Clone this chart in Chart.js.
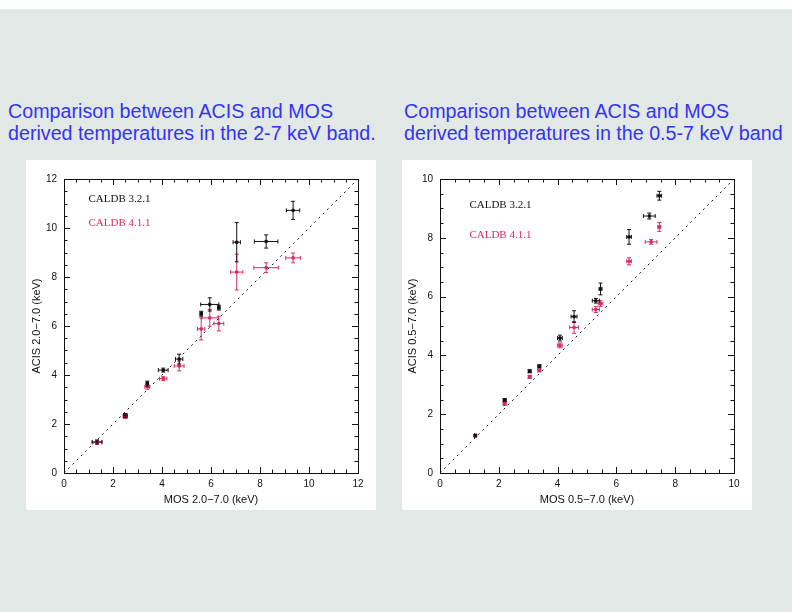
<!DOCTYPE html>
<html>
<head>
<meta charset="utf-8">
<script src="https://cdn.jsdelivr.net/npm/chart.js@4.4.1/dist/chart.umd.min.js"></script>
<style>
  html, body { margin: 0; padding: 0; }
  body { width: 792px; height: 612px; background: #e1e8e6; position: relative; overflow: hidden; font-family: "Liberation Sans", Arial, sans-serif; }
  .strip { position: absolute; left: 0; top: 0; width: 792px; height: 9px; background: #fff; }
  .title { position: absolute; top: 100px; color: #3434ee; font-size: 19.7px; line-height: 22px; white-space: nowrap; }
  .panel { position: absolute; top: 160px; width: 350px; height: 350px; background: #fff; }
</style>
</head>
<body>
<div class="strip"></div>
<div class="title" style="left:8px">Comparison between ACIS and MOS<br>derived temperatures in the 2-7 keV band.</div>
<div class="title" style="left:404px">Comparison between ACIS and MOS<br>derived temperatures in the 0.5-7 keV band</div>
<div class="panel" style="left:26px"><canvas id="left" width="350" height="350"></canvas></div>
<div class="panel" style="left:402px"><canvas id="right" width="350" height="350"></canvas></div>
<script>
// 2-7 keV band
const leftMos = [1.35, 2.5, 3.4, 4.05, 4.7, 5.6, 5.95, 6.32, 7.05, 8.25, 9.35];
const leftOld = [1.27, 2.35, 3.65, 4.2, 4.65, 6.5, 6.88, 6.75, 9.42, 9.45, 10.72];
const leftOldErrX = [0.2, 0.08, 0.05, 0.2, 0.15, 0.05, 0.37, 0.05, 0.15, 0.48, 0.27];
const leftOldErrY = [0.08, 0.08, 0.1, 0.08, 0.2, 0.1, 0.27, 0.1, 0.8, 0.27, 0.37];
const leftNew = [1.25, 2.3, 3.52, 3.85, 4.37, 5.88, 6.33, 6.1, 8.2, 8.38, 8.78];
const leftNewErrX = [0.2, 0.08, 0.1, 0.15, 0.2, 0.15, 0.35, 0.2, 0.25, 0.5, 0.3];
const leftNewErrY = [0.08, 0.08, 0.1, 0.08, 0.2, 0.45, 0.34, 0.3, 0.73, 0.2, 0.2];

// 0.5-7 keV band
const rightMos = [1.2, 2.2, 3.05, 3.38, 4.08, 4.56, 5.3, 5.46, 6.43, 7.12, 7.46];
const rightOld = [1.28, 2.48, 3.46, 3.63, 4.59, 5.32, 5.86, 6.26, 8.03, 8.74, 9.43];
const rightOldErrX = [0.03, 0.05, 0.05, 0.05, 0.08, 0.1, 0.12, 0.05, 0.08, 0.2, 0.08];
const rightOldErrY = [0.03, 0.05, 0.05, 0.05, 0.1, 0.2, 0.08, 0.2, 0.25, 0.1, 0.15];
const rightMosNew = [1.2, 2.2, 3.05, 3.38, 4.08, 4.56, 5.3, 5.46, 6.43, 7.18, 7.46];
const rightNew = [1.26, 2.35, 3.27, 3.49, 4.34, 4.95, 5.56, 5.76, 7.2, 7.86, 8.37];
const rightNewErrX = [0.03, 0.05, 0.05, 0.05, 0.08, 0.15, 0.12, 0.08, 0.08, 0.2, 0.05];
const rightNewErrY = [0.03, 0.05, 0.05, 0.05, 0.08, 0.2, 0.1, 0.1, 0.12, 0.08, 0.15];

const seriesNames = ["CALDB 3.2.1", "CALDB 4.1.1"];
const BLACK = "#111111";
const RED = "#dc2a5e";

function points(xs, ys) {
  return xs.map((x, i) => ({ x: x, y: ys[i] }));
}

// draws error bars, frame with inward ticks, and in-plot labels
const pgplotLook = {
  id: "pgplotLook",
  afterDatasetsDraw(chart) {
    const ctx = chart.ctx;
    const xs = chart.scales.x, ys = chart.scales.y;
    ctx.save();
    ctx.lineWidth = 1;
    chart.data.datasets.forEach(ds => {
      if (!ds.errX) return;
      ctx.strokeStyle = ds.borderColor;
      ds.data.forEach((p, i) => {
        const px = xs.getPixelForValue(p.x), py = ys.getPixelForValue(p.y);
        const x0 = xs.getPixelForValue(p.x - ds.errX[i]), x1 = xs.getPixelForValue(p.x + ds.errX[i]);
        const y0 = ys.getPixelForValue(p.y - ds.errY[i]), y1 = ys.getPixelForValue(p.y + ds.errY[i]);
        ctx.beginPath();
        ctx.moveTo(x0, py); ctx.lineTo(x1, py);
        ctx.moveTo(px, y0); ctx.lineTo(px, y1);
        ctx.moveTo(x0, py - 2); ctx.lineTo(x0, py + 2);
        ctx.moveTo(x1, py - 2); ctx.lineTo(x1, py + 2);
        ctx.moveTo(px - 2, y0); ctx.lineTo(px + 2, y0);
        ctx.moveTo(px - 2, y1); ctx.lineTo(px + 2, y1);
        ctx.stroke();
      });
    });
    ctx.restore();
  },
  afterDraw(chart) {
    const ctx = chart.ctx;
    const a = chart.chartArea;
    const xs = chart.scales.x, ys = chart.scales.y;
    ctx.save();
    ctx.strokeStyle = BLACK;
    ctx.lineWidth = 1;
    ctx.strokeRect(Math.round(a.left) + 0.5, Math.round(a.top) + 0.5, Math.round(a.right - a.left), Math.round(a.bottom - a.top));
    ctx.beginPath();
    for (let v = xs.min; v <= xs.max + 1e-9; v += 0.5) {
      const px = Math.round(xs.getPixelForValue(v)) + 0.5;
      const len = (Math.abs(v % 2) < 1e-9) ? 6 : 3.5;
      ctx.moveTo(px, a.bottom); ctx.lineTo(px, a.bottom - len);
      ctx.moveTo(px, a.top); ctx.lineTo(px, a.top + len);
    }
    for (let v = ys.min; v <= ys.max + 1e-9; v += 0.5) {
      const py = Math.round(ys.getPixelForValue(v)) + 0.5;
      const len = (Math.abs(v % 2) < 1e-9) ? 6 : 3.5;
      ctx.moveTo(a.left, py); ctx.lineTo(a.left + len, py);
      ctx.moveTo(a.right, py); ctx.lineTo(a.right - len, py);
    }
    ctx.stroke();
    const lab = chart.options.plugins.pgplotLook;
    ctx.font = '11px "Liberation Serif", serif';
    ctx.textBaseline = "middle";
    ctx.textAlign = "left";
    ctx.fillStyle = BLACK;
    ctx.fillText(seriesNames[0], xs.getPixelForValue(lab.x), ys.getPixelForValue(lab.y1));
    ctx.fillStyle = RED;
    ctx.fillText(seriesNames[1], xs.getPixelForValue(lab.x), ys.getPixelForValue(lab.y2));
    ctx.restore();
  }
};

function makeChart(id, max, mosX, mosXNew, oldY, oldEx, oldEy, newY, newEx, newEy, xTitle, yTitle, lab) {
  return new Chart(document.getElementById(id), {
    type: "scatter",
    data: {
      datasets: [
        {
          type: "line",
          data: points([0, max], [0, max]),
          borderColor: BLACK,
          borderWidth: 1,
          borderDash: [2, 4],
          pointRadius: 0,
          fill: false
        },
        {
          label: seriesNames[1],
          data: points(mosXNew, newY),
          errX: newEx,
          errY: newEy,
          borderColor: RED,
          backgroundColor: RED,
          pointStyle: "rect",
          pointRadius: 1.6
        },
        {
          label: seriesNames[0],
          data: points(mosX, oldY),
          errX: oldEx,
          errY: oldEy,
          borderColor: BLACK,
          backgroundColor: BLACK,
          pointStyle: "rect",
          pointRadius: 1.6
        }
      ]
    },
    options: {
      responsive: false,
      animation: false,
      layout: { padding: { top: 19, right: 18, left: 4, bottom: 0 } },
      plugins: {
        legend: { display: false },
        tooltip: { enabled: false },
        pgplotLook: lab
      },
      scales: {
        x: {
          type: "linear",
          min: 0, max: max,
          grid: { display: false, drawTicks: false },
          border: { display: false },
          ticks: { stepSize: 2, padding: 5, color: BLACK, font: { size: 10, family: "Liberation Sans" } },
          title: { display: true, text: xTitle, color: BLACK, padding: { top: 0, bottom: 3 }, font: { size: 11, family: "Liberation Sans" } },
          afterFit: s => { s.height = 37; }
        },
        y: {
          type: "linear",
          min: 0, max: max,
          grid: { display: false, drawTicks: false },
          border: { display: false },
          ticks: { stepSize: 2, padding: 7, color: BLACK, font: { size: 10, family: "Liberation Sans" } },
          title: { display: true, text: yTitle, color: BLACK, padding: { top: 0, bottom: 0 }, font: { size: 11, family: "Liberation Sans" } },
          afterFit: s => { s.width = 34; }
        }
      }
    },
    plugins: [pgplotLook]
  });
}

makeChart("left", 12, leftMos, leftMos, leftOld, leftOldErrX, leftOldErrY, leftNew, leftNewErrX, leftNewErrY,
  "MOS 2.0\u22127.0 (keV)", "ACIS 2.0\u22127.0 (keV)", { x: 1.0, y1: 11.17, y2: 10.22 });
makeChart("right", 10, rightMos, rightMosNew, rightOld, rightOldErrX, rightOldErrY, rightNew, rightNewErrX, rightNewErrY,
  "MOS 0.5\u22127.0 (keV)", "ACIS 0.5\u22127.0 (keV)", { x: 1.0, y1: 9.1, y2: 8.1 });
</script>
</body>
</html>
